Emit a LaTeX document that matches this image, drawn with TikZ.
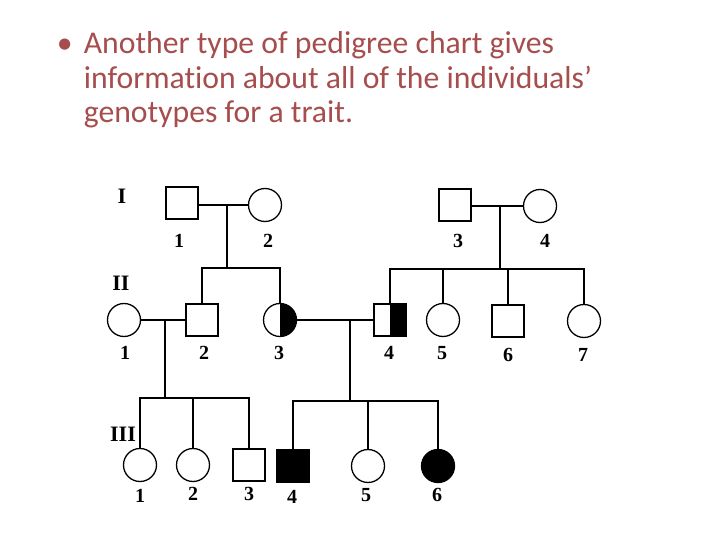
\documentclass[tikz,border=0pt]{standalone}
\usepackage{fontspec}
\setmainfont{Liberation Serif}
\newfontfamily\slidefont[Ligatures=NoCommon]{Carlito}
\usetikzlibrary{positioning}
\definecolor{slidered}{RGB}{166,77,77}

\begin{document}
\begin{tikzpicture}[x=1pt,y=-1pt,
  male/.style={draw,rectangle,minimum size=32pt,inner sep=0pt,line width=1.3pt},
  female/.style={draw,circle,minimum size=33pt,inner sep=0pt,line width=1.3pt},
  affected/.style={fill=black},
  carrier/.style={path picture={\fill[black] (path picture bounding box.north) rectangle (path picture bounding box.south east);}},
  num/.style={font=\bfseries\fontsize{20}{20}\selectfont},
  gen/.style={font=\bfseries\fontsize{22}{22}\selectfont},
  title/.style={anchor=base west,inner sep=0pt,text=slidered,font=\slidefont\fontsize{31.7}{31.7}\selectfont},
  line width=1.7pt
]
  \useasboundingbox (0,0) rectangle (720,540);

  % heading
  \node[title] (bullet) at (56,54) {•};
  \node[title] (head1) at (83,54) {Another type of pedigree chart gives};
  \node[title] (head2) at (83,89) {information about all of the individuals’};
  \node[title] (head3) at (83,123) {genotypes for a trait.};

  % generation labels
  \node[gen] (genI) at (122,196) {I};
  \node[gen] (genII) at (121,283) {II};
  \node[gen] (genIII) at (123,434) {III};

  % generation I
  \node[male] (I1) at (182,203) {};
  \node[female] (I2) at (265,205) {};
  \node[male] (I3) at (455,205) {};
  \node[female] (I4) at (540,206) {};

  % generation II
  \node[female] (II1) at (124,320) {};
  \node[male] (II2) at (202,320) {};
  \node[female,carrier] (II3) at (280,320) {};
  \node[male,carrier] (II4) at (390,320) {};
  \node[female] (II5) at (443,320) {};
  \node[male] (II6) at (508,321) {};
  \node[female] (II7) at (584,321) {};

  % generation III
  \node[female] (III1) at (140,465) {};
  \node[female] (III2) at (193,465) {};
  \node[male] (III3) at (249,465) {};
  \node[male,affected] (III4) at (293,466) {};
  \node[female] (III5) at (368,466) {};
  \node[female,affected] (III6) at (438,466) {};

  % numbers
  \node[num] at (179,241) {1};
  \node[num] at (268,241) {2};
  \node[num] at (458,241) {3};
  \node[num] at (545,241) {4};
  \foreach \n/\x/\y in {1/125/353,2/204/353,3/279/353,4/389/353,5/442/353,6/508/355,7/583/355}
    \node[num] at (\x,\y) {\n};
  \foreach \n/\x/\y in {1/140/496,2/193/494,3/249/494,4/292/497,5/366/495,6/437/495}
    \node[num] at (\x,\y) {\n};

  % family I1 x I2
  \draw (I2.west -| I1.east) -- (I2.west);
  \coordinate (sibA) at (227,268);
  \draw (sibA |- I2) -- (sibA);
  \draw (II2.north) |- (sibA) -| (II3.north);

  % family I3 x I4
  \draw (I4.west -| I3.east) -- (I4.west);
  \coordinate (sibB) at (500,269);
  \draw (sibB |- I4) -- (sibB);
  \draw (II4.north) |- (sibB) -| (II7.north);
  \draw (II5.north) -- (II5.north |- sibB);
  \draw (II6.north) -- (II6.north |- sibB);

  % family II1 x II2
  \draw (II1) -- (II2);
  \coordinate (sibC) at (165,398);
  \draw (sibC |- II1) -- (sibC);
  \draw (III1.north) |- (sibC) -| (III3.north);
  \draw (III2.north) -- (III2.north |- sibC);

  % family II3 x II4
  \draw (II3) -- (II4);
  \coordinate (sibD) at (350,401);
  \draw (sibD |- II3) -- (sibD);
  \draw (III4.north) |- (sibD) -| (III6.north);
  \draw (III5.north) -- (III5.north |- sibD);
\end{tikzpicture}
\end{document}
